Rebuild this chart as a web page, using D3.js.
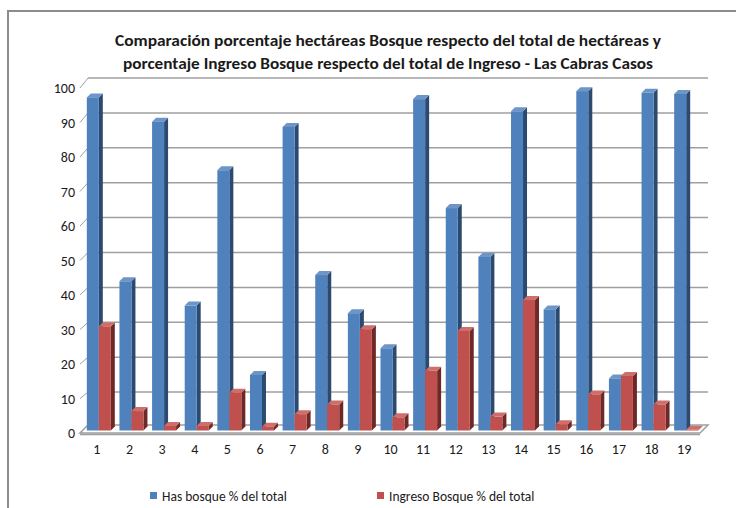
<!DOCTYPE html>
<meta charset="utf-8">
<title>Bosque Las Cabras</title>
<style>
body { margin: 0; background: #fff; }
text { font-family: Carlito, Calibri, Lato, "Open Sans", sans-serif; fill: #1a1a1a; }
.grid { stroke: #9f9f9f; stroke-width: 1.5px; }
.tick-diag { stroke: #9f9f9f; stroke-width: 1px; }
</style>
<svg width="736" height="508"></svg>
<script src="https://d3js.org/d3.v7.min.js"></script>
<script>

var categories = ["1","2","3","4","5","6","7","8","9","10","11","12","13","14","15","16","17","18","19"];
var hasBosque = [96, 43, 89, 36, 75, 16, 87.5, 44.8, 33.8, 23.7, 95.5, 64.1, 50, 92, 34.9, 97.8, 15, 97.3, 97];
var ingresoBosque = [30, 5.6, 1.3, 1.3, 10.9, 1.1, 4.7, 7.5, 29.2, 3.8, 17.2, 28.7, 4, 37.6, 1.8, 10.4, 15.7, 7.5, 0.2];
var yTicks = [0, 10, 20, 30, 40, 50, 60, 70, 80, 90, 100];
var seriesNames = ["Has bosque % del total", "Ingreso Bosque % del total"];
var titleLines = ["Comparación porcentaje hectáreas Bosque respecto del total de hectáreas y",
                  "porcentaje Ingreso Bosque respecto del total de Ingreso -  Las Cabras Casos"];

var svg = d3.select("svg");

// chart frame (only left/top visible in the picture)
svg.append("rect")
  .attr("x", 8).attr("y", 11).attr("width", 760).attr("height", 540)
  .attr("fill", "none").attr("stroke", "#8c8c8c").attr("stroke-width", 2);

// 3d depth of the plot box
var dx = 8, dy = -8;

var x = d3.scaleBand().domain(categories).range([80, 700]);
var yFront = d3.scaleLinear().domain([0, 100]).range([433, 88]);
var yBack = d3.scaleLinear().domain([0, 100]).range([427, 78]);
var yBar = d3.scaleLinear().domain([0, 100]).range([430.5, 83.5]);

// back wall gridlines
svg.selectAll(".grid").data(yTicks.filter(d => d > 0)).enter().append("line")
  .attr("class", "grid")
  .attr("x1", 80 + dx).attr("x2", 700 + dx)
  .attr("y1", d => yBack(d)).attr("y2", d => yBack(d));

// little diagonal ticks from front labels to the back wall
svg.selectAll(".tick-diag").data(yTicks).enter().append("line")
  .attr("class", "tick-diag")
  .attr("x1", 80).attr("x2", 80 + dx)
  .attr("y1", d => yFront(d)).attr("y2", d => yBack(d));

// floor
var floorPts = [[80, 433], [700, 433], [700 + dx, 433 + dy], [80 + dx, 433 + dy]];
svg.append("path")
  .attr("d", "M" + floorPts.join("L") + "Z")
  .attr("fill", "#fff").attr("stroke", "#9f9f9f").attr("stroke-width", 1.5);
svg.append("line")
  .attr("x1", 80).attr("x2", 700).attr("y1", 434.5).attr("y2", 434.5)
  .attr("stroke", "#9f9f9f").attr("stroke-width", 1.5);

svg.selectAll(".ylab").data(yTicks).enter().append("text")
  .attr("class", "ylab")
  .attr("x", 75).attr("y", d => yFront(d) + 5)
  .attr("text-anchor", "end").attr("font-size", 14)
  .text(d => d);

svg.selectAll(".xlab").data(categories).enter().append("text")
  .attr("class", "xlab")
  .attr("x", d => x(d) + x.bandwidth() / 2 + 0.5).attr("y", 454)
  .attr("text-anchor", "middle").attr("font-size", 14)
  .text(d => d);

// bars
var barW = 12, bd = 4;
var styles = [
  {front: "#4f81bd", side: "#2c4a70", top: "#6d95c8"},
  {front: "#c0504d", side: "#6e2826", top: "#cf6f6c"}
];

function bar3d(g, x0, v, st) {
  var top = yBar(v), bottom = yBar(0), x1 = x0 + barW;
  g.append("path")
    .attr("d", "M" + [[x1, top], [x1 + bd, top - bd], [x1 + bd, bottom - bd], [x1, bottom]].join("L") + "Z")
    .attr("fill", st.side);
  g.append("path")
    .attr("d", "M" + [[x0, top], [x0 + bd, top - bd], [x1 + bd, top - bd], [x1, top]].join("L") + "Z")
    .attr("fill", st.top);
  g.append("rect")
    .attr("x", x0).attr("y", top).attr("width", barW).attr("height", bottom - top)
    .attr("fill", st.front);
}

var bars = svg.append("g");
categories.forEach(function(c, i) {
  var cx = x(c) + x.bandwidth() / 2 + 2.5;
  bar3d(bars, cx - barW, hasBosque[i], styles[0]);
  bar3d(bars, cx, ingresoBosque[i], styles[1]);
});

// title
var titleW = [546, 530];
svg.selectAll(".title").data(titleLines).enter().append("text")
  .attr("class", "title")
  .attr("x", 388).attr("y", (d, i) => 46 + i * 23)
  .attr("text-anchor", "middle").attr("font-size", 15.5).attr("font-weight", "bold")
  .attr("textLength", (d, i) => titleW[i]).attr("lengthAdjust", "spacingAndGlyphs")
  .text(d => d);

// legend
var legX = [150, 377];
var leg = svg.selectAll(".leg").data(seriesNames).enter().append("g")
  .attr("transform", (d, i) => "translate(" + legX[i] + ",492)");
leg.append("rect").attr("width", 7).attr("height", 7)
  .attr("fill", (d, i) => styles[i].front);
leg.append("text").attr("x", 12).attr("y", 9).attr("font-size", 13.5)
  .attr("fill", "#333").text(d => d);

</script>
